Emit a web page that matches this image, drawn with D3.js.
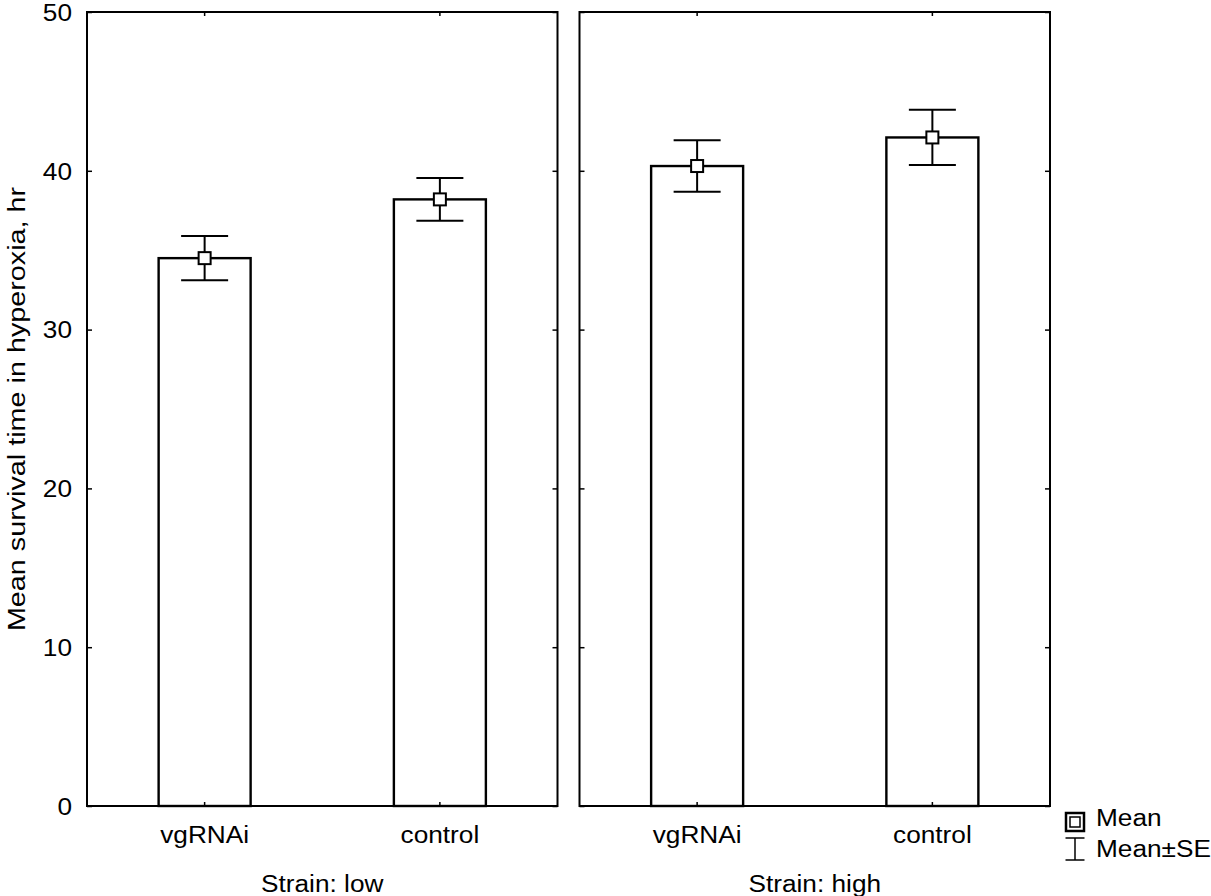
<!DOCTYPE html>
<html>
<head>
<meta charset="utf-8">
<script src="https://cdn.jsdelivr.net/npm/d3@7"></script>
<style>
  html, body { margin: 0; padding: 0; background: #fff; }
  svg { display: block; font-family: Arial, "Liberation Sans", sans-serif; }
</style>
</head>
<body>
<svg id="chart" width="1211" height="896"></svg>
<script>
// Mean survival time in hyperoxia (hr) by strain and treatment, with standard errors
const strains = ["low", "high"];
const treatments = ["vgRNAi", "control"];
const meanLow = [34.5, 38.2];
const seLow = [1.4, 1.35];
const meanHigh = [40.3, 42.1];
const seHigh = [1.62, 1.74];
const yTicks = [0, 10, 20, 30, 40, 50];

const means = { low: meanLow, high: meanHigh };
const ses = { low: seLow, high: seHigh };

const svg = d3.select("#chart");
const yTop = 12, yBottom = 806;
const fontPx = "23px";
const y = d3.scaleLinear().domain([0, 50]).range([yBottom, yTop]);

const panel = d3.scaleBand().domain(strains).range([87, 1050])
  .paddingInner(22 / 492.5).paddingOuter(0);
const pw = panel.bandwidth();
const x = d3.scaleBand().domain(treatments).range([0, pw]).padding(0);
const barW = 92, capW = 47, markS = 12, tick = 5;

strains.forEach((s, si) => {
  const g = svg.append("g").attr("transform", `translate(${panel(s)},0)`);
  const rows = treatments.map((t, i) => ({ t, m: means[s][i], se: ses[s][i] }));
  const cx = d => x(d.t) + x.bandwidth() / 2;

  // bars
  g.selectAll("rect.bar").data(rows).join("rect")
    .attr("class", "bar")
    .attr("x", d => cx(d) - barW / 2)
    .attr("y", d => y(d.m))
    .attr("width", barW)
    .attr("height", d => y(0) - y(d.m))
    .attr("fill", "#fff").attr("stroke", "#000").attr("stroke-width", 2.4);

  // error bars
  const eb = g.selectAll("g.err").data(rows).join("g").attr("class", "err")
    .attr("stroke", "#000").attr("stroke-width", 2);
  eb.append("line").attr("x1", cx).attr("x2", cx)
    .attr("y1", d => y(d.m + d.se)).attr("y2", d => y(d.m - d.se));
  eb.append("line").attr("x1", d => cx(d) - capW / 2).attr("x2", d => cx(d) + capW / 2)
    .attr("y1", d => y(d.m + d.se)).attr("y2", d => y(d.m + d.se));
  eb.append("line").attr("x1", d => cx(d) - capW / 2).attr("x2", d => cx(d) + capW / 2)
    .attr("y1", d => y(d.m - d.se)).attr("y2", d => y(d.m - d.se));

  // mean markers
  g.selectAll("rect.mean").data(rows).join("rect")
    .attr("class", "mean")
    .attr("x", d => cx(d) - markS / 2)
    .attr("y", d => y(d.m) - markS / 2)
    .attr("width", markS).attr("height", markS)
    .attr("fill", "#fff").attr("stroke", "#000").attr("stroke-width", 2);

  // inward ticks on all four sides
  const left = d3.axisLeft(y).tickValues(yTicks).tickSize(-tick).tickPadding(15)
    .tickFormat(si === 0 ? d3.format("d") : () => "");
  const la = g.append("g").call(left);
  const right = d3.axisRight(y).tickValues(yTicks).tickSize(-tick).tickFormat(() => "");
  const ra = g.append("g").attr("transform", `translate(${pw},0)`).call(right);
  const xb = d3.axisBottom(x).tickSize(-4).tickPadding(21).offset(0);
  const ba = g.append("g").attr("transform", `translate(0,${yBottom})`).call(xb);
  const xt = d3.axisTop(x).tickSize(-4).tickFormat(() => "").offset(0);
  const ta = g.append("g").attr("transform", `translate(0,${yTop})`).call(xt);
  [la, ra, ba, ta].forEach(a => {
    a.select(".domain").remove();
    a.selectAll("line").attr("stroke", "#000").attr("stroke-width", 1.5);
    a.selectAll("text").attr("fill", "#000").style("font-size", fontPx)
      .style("font-family", "Arial, 'Liberation Sans', sans-serif");
  });
  la.selectAll("text").attr("dy", "0.36em");
  ba.selectAll("text").attr("dy", "0.71em");

  // panel frame
  g.append("rect").attr("x", 0).attr("y", yTop).attr("width", pw).attr("height", yBottom - yTop)
    .attr("fill", "none").attr("stroke", "#000").attr("stroke-width", 2);

  // panel caption
  g.append("text").attr("x", pw / 2).attr("y", 892).attr("text-anchor", "middle")
    .style("font-size", fontPx).text("Strain: " + s);
});

// y-axis title
svg.append("text")
  .attr("class", "ytitle")
  .attr("transform", `translate(25,${(yTop + yBottom) / 2}) rotate(-90)`)
  .attr("text-anchor", "middle")
  .style("font-size", fontPx)
  .text("Mean survival time in hyperoxia, hr");

// legend
const lg = svg.append("g").attr("transform", "translate(1075,0)");
lg.append("rect").attr("x", -9).attr("y", 813).attr("width", 18).attr("height", 18)
  .attr("fill", "#fff").attr("stroke", "#000").attr("stroke-width", 2.5);
lg.append("rect").attr("x", -5).attr("y", 817).attr("width", 10).attr("height", 10)
  .attr("fill", "#fff").attr("stroke", "#000").attr("stroke-width", 1.5);
lg.append("text").attr("x", 21).attr("y", 826).style("font-size", fontPx).text("Mean");
const ib = lg.append("g").attr("stroke", "#000").attr("stroke-width", 1.5);
ib.append("line").attr("x1", -9.5).attr("x2", 9.5).attr("y1", 838).attr("y2", 838);
ib.append("line").attr("x1", -9.5).attr("x2", 9.5).attr("y1", 860).attr("y2", 860);
ib.append("line").attr("x1", 0).attr("x2", 0).attr("y1", 838).attr("y2", 860);
lg.append("text").attr("x", 21).attr("y", 857).style("font-size", fontPx).text("Mean±SE");

// the typeface used here is set a little wider than Liberation Sans; widen glyphs to suit
svg.selectAll("text").each(function () {
  const len = this.getComputedTextLength();
  if (len > 0) {
    const k = this.classList.contains("ytitle") ? 1.25 : 1.14;
    d3.select(this).attr("textLength", len * k).attr("lengthAdjust", "spacingAndGlyphs");
  }
});
</script>
</body>
</html>
